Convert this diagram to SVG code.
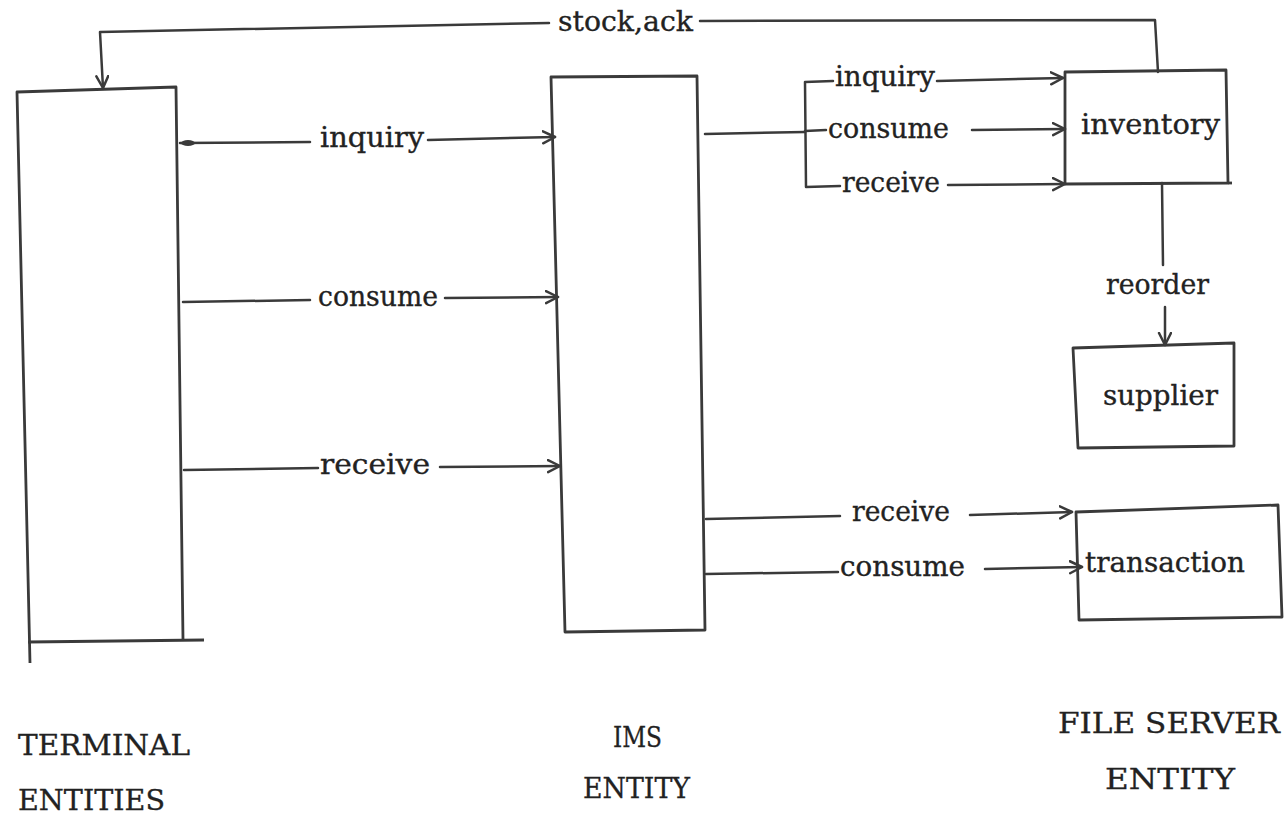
<svg xmlns="http://www.w3.org/2000/svg" width="1287" height="818" viewBox="0 0 1287 818">
<style>
.ln{fill:none;stroke:#3a3a3a;stroke-width:2.5;stroke-linecap:round;stroke-linejoin:round}
.bx{fill:none;stroke:#3a3a3a;stroke-width:2.8;stroke-linejoin:round}
.t{font-family:"DejaVu Serif","Liberation Serif",serif;font-size:28px;fill:#222;stroke:#222;stroke-width:0.35}
.c{font-family:"DejaVu Serif","Liberation Serif",serif;font-size:28px;fill:#222;stroke:#222;stroke-width:0.3}
</style>
<defs>
<marker id="ah" markerUnits="userSpaceOnUse" markerWidth="16" markerHeight="16" refX="13" refY="7" orient="auto">
<path d="M1,1 L13,7 L1,13" fill="none" stroke="#3a3a3a" stroke-width="2.5" stroke-linecap="round" stroke-linejoin="round"/>
</marker>
</defs>
<g id="terminal">
<path class="bx" d="M30,663 L17,92 L176,87 L183,640"/>
<path class="bx" d="M28,642 L204,640"/>
</g>
<g id="ims">
<path class="bx" d="M551,77 L697,76 L705,630 L565,632 Z"/>
</g>
<g id="inventory">
<path class="bx" d="M1065,72 L1226,70 L1228,183 L1065,184 Z"/>
<path class="bx" d="M1228,183 L1232,183"/>
<text class="t" x="1081" y="134" textLength="139" lengthAdjust="spacingAndGlyphs">inventory</text>
</g>
<g id="supplier">
<path class="bx" d="M1073,348 L1234,343 L1234,446 L1078,448 Z"/>
<text class="t" x="1103" y="405" textLength="115" lengthAdjust="spacingAndGlyphs">supplier</text>
</g>
<g id="transaction">
<path class="bx" d="M1076,512 L1278,505 L1282,617 L1079,620 Z"/>
<text class="t" x="1085" y="572" textLength="160" lengthAdjust="spacingAndGlyphs">transaction</text>
</g>
<g id="connectors">
<path class="ln" d="M1158,72 L1155,20 L700,21"/>
<path class="ln" d="M549,23 L100,32 L103,88" marker-end="url(#ah)"/>
<text class="t" x="558" y="31" textLength="135" lengthAdjust="spacingAndGlyphs">stock,ack</text>
<ellipse cx="188" cy="143" rx="7" ry="3" fill="#3a3a3a"/>
<path class="ln" d="M180,143 L310,142"/>
<path class="ln" d="M428,140 L555,137" marker-end="url(#ah)"/>
<text class="t" x="320" y="147" textLength="104" lengthAdjust="spacingAndGlyphs">inquiry</text>
<path class="ln" d="M183,302 L310,300"/>
<path class="ln" d="M445,298 L558,297" marker-end="url(#ah)"/>
<text class="t" x="318" y="306" textLength="120" lengthAdjust="spacingAndGlyphs">consume</text>
<path class="ln" d="M184,470 L318,468"/>
<path class="ln" d="M440,467 L560,466" marker-end="url(#ah)"/>
<text class="t" x="320" y="474" textLength="110" lengthAdjust="spacingAndGlyphs">receive</text>
<path class="ln" d="M705,134 L805,132"/>
<path class="ln" d="M833,81 L805,82 L806,187 L840,186"/>
<path class="ln" d="M805,131 L826,130"/>
<path class="ln" d="M937,81 L1063,78" marker-end="url(#ah)"/>
<text class="t" x="835" y="86" textLength="100" lengthAdjust="spacingAndGlyphs">inquiry</text>
<path class="ln" d="M972,130 L1065,129" marker-end="url(#ah)"/>
<text class="t" x="828" y="138" textLength="121" lengthAdjust="spacingAndGlyphs">consume</text>
<path class="ln" d="M948,185 L1065,184" marker-end="url(#ah)"/>
<text class="t" x="842" y="192" textLength="98" lengthAdjust="spacingAndGlyphs">receive</text>
<path class="ln" d="M1162,183 L1163,265"/>
<path class="ln" d="M1165,307 L1165,345" marker-end="url(#ah)"/>
<text class="t" x="1106" y="294" textLength="103" lengthAdjust="spacingAndGlyphs">reorder</text>
<path class="ln" d="M706,519 L840,516"/>
<path class="ln" d="M970,515 L1072,512" marker-end="url(#ah)"/>
<text class="t" x="852" y="521" textLength="98" lengthAdjust="spacingAndGlyphs">receive</text>
<path class="ln" d="M706,574 L838,572"/>
<path class="ln" d="M985,569 L1082,567" marker-end="url(#ah)"/>
<text class="t" x="840" y="576" textLength="125" lengthAdjust="spacingAndGlyphs">consume</text>
</g>
<g id="labels">
<text class="c" x="18" y="755" textLength="172" lengthAdjust="spacingAndGlyphs">TERMINAL</text>
<text class="c" x="18" y="810" textLength="147" lengthAdjust="spacingAndGlyphs">ENTITIES</text>
<text class="c" x="613" y="747" textLength="49" lengthAdjust="spacingAndGlyphs">IMS</text>
<text class="c" x="583" y="798" textLength="107" lengthAdjust="spacingAndGlyphs">ENTITY</text>
<text class="c" x="1058" y="733" textLength="222" lengthAdjust="spacingAndGlyphs">FILE SERVER</text>
<text class="c" x="1105" y="789" textLength="130" lengthAdjust="spacingAndGlyphs">ENTITY</text>
</g>
</svg>
